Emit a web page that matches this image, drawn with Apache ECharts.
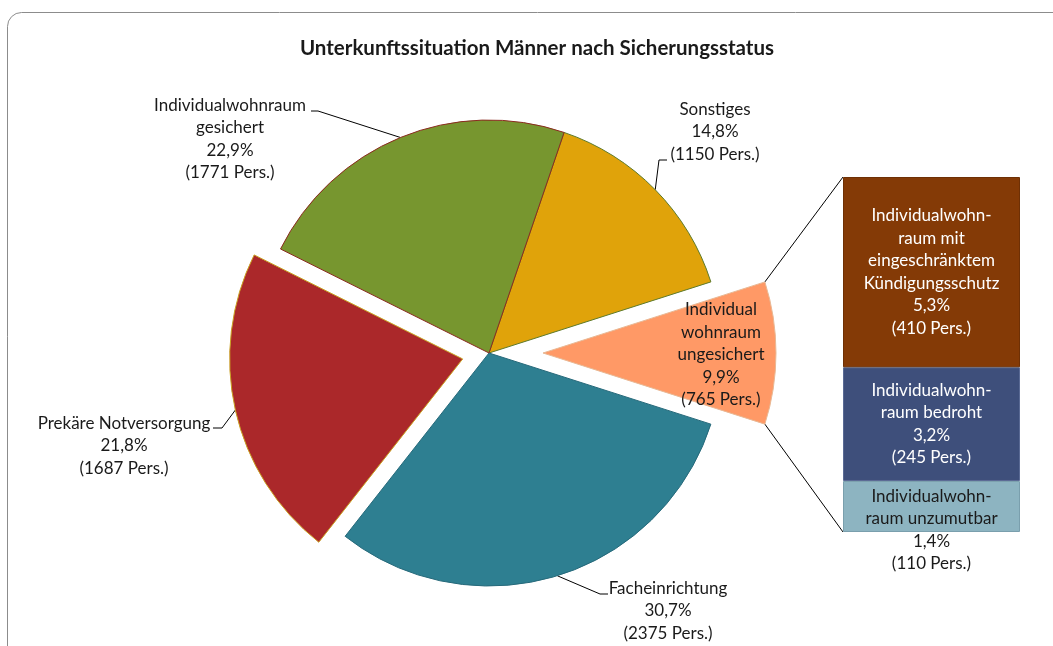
<!DOCTYPE html>
<html>
<head>
<meta charset="utf-8">
<script src="https://cdn.jsdelivr.net/npm/echarts@6/dist/echarts.min.js"></script>
<style>
    html, body { margin: 0; padding: 0; background: #fff; }
    #main { width: 1053px; height: 646px; }
</style>
</head>
<body>
<div id="main"></div>
<script>
// pie data (clockwise, starting right of the top)
const pieNames = ['Sonstiges', 'Individual\nwohnraum\nungesichert', 'Facheinrichtung', 'Prekäre Notversorgung', 'Individualwohnraum\ngesichert'];
const pieValues = [1150, 765, 2375, 1687, 1771];
const pieColors = ['#E0A30A', '#FF9966', '#2E7F91', '#AB282A', '#77962F'];
const pieBorders = ['#5E7A2A', '#E8B894', '#26697A', '#C8A020', '#8B2A20'];

// breakdown of "Individualwohnraum ungesichert" (bottom to top)
const barNames = ['Individualwohn-\nraum unzumutbar', 'Individualwohn-\nraum bedroht', 'Individualwohn-\nraum mit\neingeschränktem\nKündigungsschutz'];
const barValues = [110, 245, 410];
const barColors = ['#8DB4C1', '#3E4F7B', '#843A06'];
const barBorders = ['#7A9FAD', '#5A6A94', '#6E3005'];

const chartDom = document.getElementById('main');
const myChart = echarts.init(chartDom);

const total = pieValues.reduce((a, b) => a + b, 0);
const barTotal = barValues.reduce((a, b) => a + b, 0);
const pct = v => (v / total * 100).toFixed(1).replace('.', ',') + '%';

const font = 'Lato, "Open Sans", sans-serif';
const center = [489, 353];
const radius = 233;
const startDeg = 71.2;
const explodeSmall = 27;   // Prekäre Notversorgung
const explodeBig = 54;     // Individualwohnraum ungesichert
const gridLeft = 843;

// label placement as in the Excel original: label centre, leader knee, leader end
const labelPos = {
    0: { at: [715, 132], knee: [659, 160], end: [667, 160] },
    1: { at: [721, 355] },
    2: { at: [668, 611], knee: [600, 594], end: [608, 594] },
    3: { at: [124, 446], knee: [222, 428], end: [213, 428] },
    4: { at: [230, 139], knee: [318, 111], end: [311, 111] }
};

const labelText = {
    fontFamily: font,
    fontSize: 17,
    lineHeight: 22.5,
    color: '#1a1a1a',
    align: 'center'
};

const placeLabel = params => {
    const pos = labelPos[params.dataIndex];
    if (!pos) return {};
    const out = { x: pos.at[0], y: pos.at[1], align: 'center', verticalAlign: 'middle' };
    if (pos.knee && params.labelLinePoints) {
        out.labelLinePoints = [params.labelLinePoints[0], pos.knee, pos.end];
    }
    return out;
};

// centre of the pie moved outwards along the middle of slice idx (explosion)
function sliceCenter(idx, dist) {
    let acc = 0;
    for (let i = 0; i < idx; i++) acc += pieValues[i];
    const m = (startDeg - 360 * (acc + pieValues[idx] / 2) / total) * Math.PI / 180;
    return [center[0] + dist * Math.cos(m), center[1] - dist * Math.sin(m)];
}

function pieSeries(showIdx, pieCenter) {
    return {
        type: 'pie',
        center: pieCenter,
        radius: radius,
        startAngle: startDeg,
        clockwise: true,
        avoidLabelOverlap: false,
        silent: true,
        label: {
            show: true,
            position: 'outside',
            formatter: p => p.name + '\n' + pct(p.value) + '\n(' + p.value + ' Pers.)',
            ...labelText
        },
        labelLine: { show: true, lineStyle: { color: '#000', width: 1 } },
        labelLayout: placeLabel,
        data: pieNames.map((n, i) => {
            if (showIdx.indexOf(i) < 0) {
                return {
                    name: n,
                    value: pieValues[i],
                    itemStyle: { color: 'rgba(0,0,0,0)', borderWidth: 0 },
                    label: { show: false },
                    labelLine: { show: false }
                };
            }
            return {
                name: n,
                value: pieValues[i],
                itemStyle: { color: pieColors[i], borderColor: pieBorders[i], borderWidth: 1 },
                labelLine: { show: i !== 1 }
            };
        })
    };
}

const orangeCenter = sliceCenter(1, explodeBig);

const option = {
    animation: false,
    title: {
        text: 'Unterkunftssituation Männer nach Sicherungsstatus',
        left: 532,
        textAlign: 'center',
        top: 33,
        textStyle: { fontFamily: font, fontSize: 20.5, fontWeight: 'bold', color: '#1a1a1a' }
    },
    grid: { left: gridLeft, right: 33, top: 177, bottom: 114 },
    xAxis: { type: 'category', data: ['ungesichert'], show: false },
    yAxis: { type: 'value', min: 0, max: barTotal, show: false },
    series: [
        pieSeries([0, 2, 4], center),
        pieSeries([3], sliceCenter(3, explodeSmall)),
        pieSeries([1], orangeCenter)
    ].concat(barNames.map((n, i) => ({
        type: 'bar',
        name: n,
        stack: 'ungesichert',
        barWidth: '100%',
        silent: true,
        itemStyle: { color: barColors[i], borderColor: barBorders[i], borderWidth: 1 },
        label: {
            show: true,
            position: i === 0 ? 'insideTop' : 'inside',
            distance: 4,
            formatter: () => n + '\n' + pct(barValues[i]) + '\n(' + barValues[i] + ' Pers.)',
            fontFamily: font,
            fontSize: 17,
            lineHeight: 22.5,
            align: 'center',
            color: i === 0 ? '#1a1a1a' : '#ffffff'
        },
        data: [barValues[i]]
    })))
};

myChart.setOption(option);

// connector lines from the exploded slice to the stacked bar
const a0 = (startDeg - 360 * pieValues[0] / total) * Math.PI / 180;
const a1 = (startDeg - 360 * (pieValues[0] + pieValues[1]) / total) * Math.PI / 180;
const p0 = [orangeCenter[0] + radius * Math.cos(a0), orangeCenter[1] - radius * Math.sin(a0)];
const p1 = [orangeCenter[0] + radius * Math.cos(a1), orangeCenter[1] - radius * Math.sin(a1)];
const barTop = myChart.convertToPixel({ yAxisIndex: 0 }, barTotal);
const barBottom = myChart.convertToPixel({ yAxisIndex: 0 }, 0);

myChart.setOption({
    graphic: [
        {
            type: 'rect',
            shape: { x: 7.5, y: 12.5, width: 1060, height: 700, r: 14 },
            style: { fill: 'none', stroke: '#8c8c8c', lineWidth: 1 },
            silent: true,
            z: -10
        },
        {
            type: 'line',
            shape: { x1: p0[0], y1: p0[1], x2: gridLeft, y2: barTop },
            style: { stroke: '#000', lineWidth: 1 },
            silent: true
        },
        {
            type: 'line',
            shape: { x1: p1[0], y1: p1[1], x2: gridLeft, y2: barBottom },
            style: { stroke: '#000', lineWidth: 1 },
            silent: true
        }
    ]
});

window.addEventListener('resize', () => {
    myChart.resize();
});
</script>
</body>
</html>
